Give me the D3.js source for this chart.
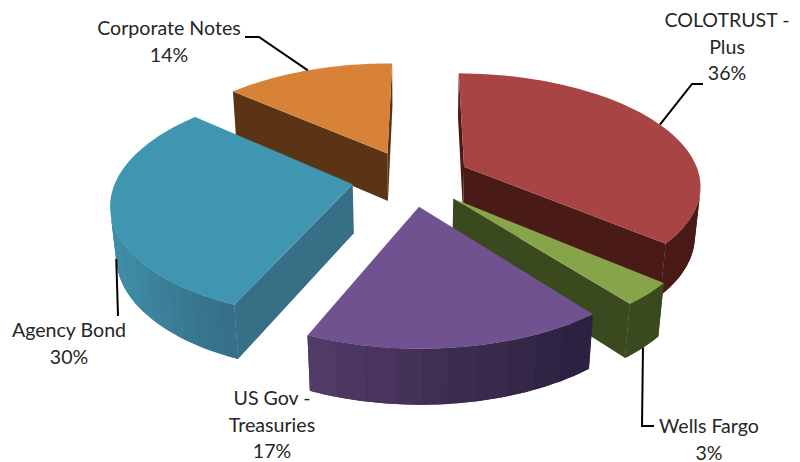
<!DOCTYPE html>
<html><head><meta charset="utf-8">
<script src="https://cdn.jsdelivr.net/npm/d3@7"></script>
<style>html,body{margin:0;background:#fff}text{font-family:Lato,sans-serif;font-size:19.6px;fill:#262626}</style>
</head><body><svg id="c" width="800" height="462"></svg>
<script>
const categories=["COLOTRUST - Plus","Wells Fargo","US Gov - Treasuries","Agency Bond","Corporate Notes"];
const values=[36.1,3.2,17,30,13.7];
const labelLines=[["COLOTRUST -","Plus"],["Wells Fargo"],["US Gov -","Treasuries"],["Agency Bond"],["Corporate Notes"]];
const topColors=["#a84544","#86a44a","#715290","#4096b0","#d88238"];
const innerColors=["#4a1a16","#3a4a1e","#3a2a50","#366f86","#5a3414"];
const outerLeft=["#4a1a16","#3a4a1e","#503a66","#3f8ca6","#5a3414"];
const outerRight=["#4a1a16","#3a4a1e","#2c2140","#356f88","#5a3414"];
const drawOrder=[4,0,3,1,2];
const labelX=[727,709,272,69,169], labelY=[27,433,405,337,35];
const leaderZ=[0,1,0,0.8,0], leaderNudge=[0,0,0,-0.07,0];
const leaderElbows=[[[692,84],[703,84]],[[642,426],[654,426]],[],[[118,316]],[[259,37],[245,37]]];
const P={cx:411,cy:178,F:1368.6,D:5.796,t:.488,e:.251,h:.238,rot:.008};
const pie=d3.pie().sort(null).value(d=>d);
const arcs=pie(values);
function proj(i,ang,r,z){
  const a=arcs[i],m=(a.startAngle+a.endAngle)/2+P.rot,A=ang+P.rot;
  const x=P.e*Math.sin(m)+r*Math.sin(A),y=P.e*Math.cos(m)+r*Math.cos(A);
  const w=P.D+y*Math.cos(P.t)-z*Math.sin(P.t);
  return [P.cx+P.F*x/w,P.cy-P.F*(y*Math.sin(P.t)+z*Math.cos(P.t))/w];
}
const svg=d3.select("#c");
const line=d3.line();
const area=q=>{let s=0;q.forEach((a,j)=>{const b=q[(j+1)%q.length];s+=a[0]*b[1]-b[0]*a[1]});return s;};
drawOrder.forEach(i=>{
  const a=arcs[i],g=svg.append("g");
  const steps=d3.range(0,61).map(j=>a.startAngle+(a.endAngle-a.startAngle)*j/60);
  const wall=(ang,col,flip)=>{const q=[proj(i,0,0,0),proj(i,ang,1,0),proj(i,ang,1,-P.h),proj(i,0,0,-P.h)];
    if((area(q)>0)===flip) g.append("path").attr("d",line(q)+"Z").attr("fill",col);};
  wall(a.startAngle,innerColors[i],false);
  wall(a.endAngle,innerColors[i],true);
  const vis=d3.pairs(steps).filter(([u,v])=>area([proj(i,u,1,0),proj(i,v,1,0),proj(i,v,1,-P.h),proj(i,u,1,-P.h)])<0);
  if(vis.length){
    const xs=vis.map(([u])=>proj(i,u,1,0)[0]);
    const shade=d3.scaleQuantize().domain(d3.extent(xs)).range(d3.quantize(d3.interpolateRgb(outerLeft[i],outerRight[i]),10));
    const base=vis.map(([u])=>proj(i,u,1,0)).concat([proj(i,vis[vis.length-1][1],1,0)],[proj(i,vis[vis.length-1][1],1,-P.h)],vis.slice().reverse().map(([u])=>proj(i,u,1,-P.h)));
    g.append("path").attr("d",line(base)+"Z").attr("fill",d3.interpolateRgb(outerLeft[i],outerRight[i])(.5));
    const grouped=d3.group(vis,([u])=>shade(proj(i,u,1,0)[0]));
    grouped.forEach((segs,c)=>{
      const top=segs.map(([u])=>proj(i,u,1,0)).concat([proj(i,segs[segs.length-1][1],1,0)]);
      const bot=[proj(i,segs[segs.length-1][1],1,-P.h)].concat(segs.slice().reverse().map(([u])=>proj(i,u,1,-P.h)));
      g.append("path").attr("d",line(top.concat(bot))+"Z").attr("fill",c);
    });
  }
  const top=[proj(i,0,0,0)].concat(steps.map(u=>proj(i,u,1,0)));
  g.append("path").attr("d",line(top)+"Z").attr("fill",topColors[i]);
});
arcs.forEach((a,i)=>{
  const mid=(a.startAngle+a.endAngle)/2+leaderNudge[i];
  const pts=[proj(i,mid,1,-P.h*leaderZ[i])].concat(leaderElbows[i]);
  if(pts.length>1) svg.append("path").attr("d",line(pts)).attr("fill","none").attr("stroke","#000").attr("stroke-width",2);
  const t=svg.append("text").attr("text-anchor","middle");
  const rows=labelLines[i].concat([d3.format(".0%")(a.value/d3.sum(values))]);
  rows.forEach((s,j)=>t.append("tspan").attr("x",labelX[i]).attr("y",labelY[i]+j*26.5).text(s));
});
</script></body></html>
